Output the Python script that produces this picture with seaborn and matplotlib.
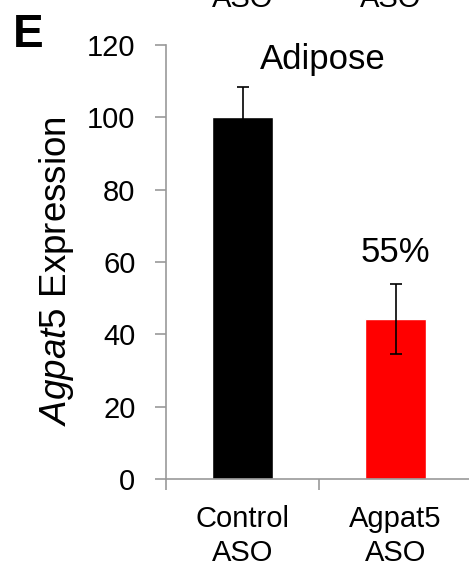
import matplotlib
matplotlib.use("Agg")
import matplotlib.pyplot as plt
import seaborn as sns
import pandas as pd
from matplotlib.ticker import FixedLocator

categories = ["Control\nASO", "Agpat5\nASO"]
values = [100.0, 44.3]
errors = [8.5, 9.6]
colors = ["#000000", "#ff0000"]
yticks = [0, 20, 40, 60, 80, 100, 120]

sns.set_style("white")
plt.rcParams["font.family"] = ["Liberation Sans", "DejaVu Sans"]
plt.rcParams["mathtext.fontset"] = "custom"
plt.rcParams["mathtext.it"] = "Liberation Sans:italic"
plt.rcParams["mathtext.rm"] = "Liberation Sans"
plt.rcParams["text.color"] = "black"

W, H = 469, 567
fig = plt.figure(figsize=(W / 100, H / 100), dpi=100)
x0, x1, y0, y1 = 166, 472, 479, 45
ax = fig.add_axes([x0 / W, 1 - y0 / H, (x1 - x0) / W, (y0 - y1) / H])

df = pd.DataFrame({"cat": categories, "val": values})
sns.barplot(data=df, x="cat", y="val", hue="cat", palette=colors, width=0.4,
            legend=False, ax=ax, saturation=1)
ax.errorbar(range(len(values)), values, yerr=errors, fmt="none", ecolor="black",
            elinewidth=1.2, capsize=4, capthick=1.2)

ax.set_xlim(-0.5, 1.5)
ax.set_ylim(0, 120)
ax.set_yticks(yticks)
ax.set_xticks(range(len(categories)))
ax.set_xticklabels(categories, fontsize=21, linespacing=1.25)
ax.xaxis.set_minor_locator(FixedLocator([-0.5, 0.5, 1.5]))
ax.tick_params(axis="x", which="major", length=0, pad=19, labelcolor="black")
ax.tick_params(axis="x", which="minor", length=8, width=1.2, color="#999999", bottom=True)
ax.tick_params(axis="y", length=8, width=1.2, color="#999999", labelsize=21, pad=14,
               left=True, labelcolor="black")
for s in ["top", "right"]:
    ax.spines[s].set_visible(False)
for s in ["left", "bottom"]:
    ax.spines[s].set_color("#999999")
    ax.spines[s].set_linewidth(1.2)
ax.set_xlabel("")
ax.set_ylabel("")

fig.text(56 / W, 1 - 271 / H, r"$\mathit{Agpat5}$ Expression", rotation=90,
         ha="center", va="center", fontsize=26.5)
fig.text(323 / W, 1 - 69 / H, "Adipose", ha="center", va="baseline", fontsize=25)
ax.text(1, 60, "55%", ha="center", va="baseline", fontsize=25)
fig.text(13 / W, 1 - 47 / H, "E", ha="left", va="baseline", fontsize=33, fontweight="bold")
fig.text(243 / W, 1 - 7 / H, "ASO", ha="center", va="baseline", fontsize=21)
fig.text(391 / W, 1 - 7 / H, "ASO", ha="center", va="baseline", fontsize=21)

fig.savefig("out.png", dpi=100)
